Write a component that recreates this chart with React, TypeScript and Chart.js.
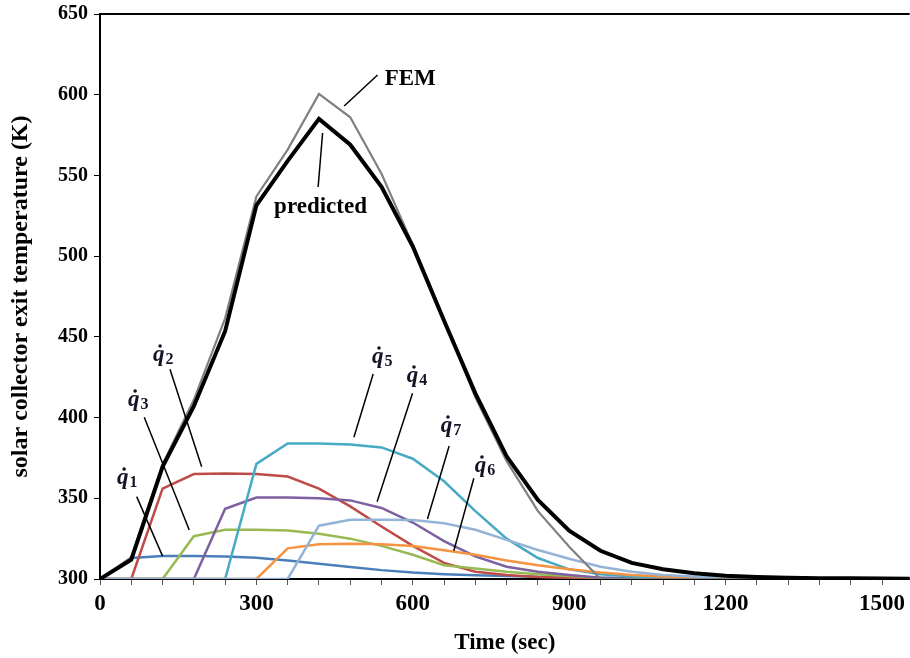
import React, { useEffect, useRef } from 'react';
import { Chart, registerables } from 'chart.js';
Chart.register(...registerables);

const TIMES = [0, 60, 120, 180, 240, 300, 360, 420, 480, 540, 600, 660, 720, 780, 840, 900, 960, 1020, 1080, 1140, 1200, 1260, 1320, 1380, 1440, 1500, 1560];
const PREDICTED = [300, 312, 369.5, 407, 453.5, 531.5, 559, 585, 569, 543, 506, 460, 415, 376, 349, 330, 317.5, 310, 306, 303.5, 302, 301.2, 300.8, 300.5, 300.4, 300.3, 300.2];
const FEM = [300, 313.5, 371, 411, 461.5, 537, 566, 600.5, 586, 551, 507, 461, 412.5, 373, 342, 320, 300, 300, 300, 300, 300, 300, 300, 300, 300, 300, 300];
const Q1 = [300, 313, 314.2, 314.3, 314, 313.2, 311.5, 309.5, 307.5, 305.5, 304, 303, 302.3, 301.8, 301.4, 301, 300.7, 300.5, 300.3, 300.2, 300.1, 300, 300, 300, 300, 300, 300];
const Q2 = [300, 300, 356, 365, 365.3, 365, 363.5, 356, 345, 332.5, 320.5, 310, 304.5, 302.5, 301.3, 300.8, 300.4, 300.2, 300, 300, 300, 300, 300, 300, 300, 300, 300];
const Q3 = [300, 300, 300, 326.5, 330.5, 330.5, 330, 328, 325, 320.5, 315, 308.5, 306.5, 304.5, 303, 301.8, 300.6, 300.3, 300, 300, 300, 300, 300, 300, 300, 300, 300];
const Q4 = [300, 300, 300, 300, 343.5, 350.5, 350.5, 350, 348.7, 344, 335, 323.5, 314, 307.6, 304.5, 302.5, 300.8, 300.3, 300, 300, 300, 300, 300, 300, 300, 300, 300];
const Q5 = [300, 300, 300, 300, 300, 371.3, 384, 384, 383.3, 381.5, 374.5, 360.5, 342, 325, 313, 306, 303, 301.5, 300.7, 300.3, 300, 300, 300, 300, 300, 300, 300];
const Q6 = [300, 300, 300, 300, 300, 300, 319, 321.5, 321.8, 321.5, 320.5, 317.8, 315, 311.5, 308.5, 306, 304, 302.5, 301.5, 300.8, 300.4, 300.2, 300, 300, 300, 300, 300];
const Q7 = [300, 300, 300, 300, 300, 300, 300, 333, 336.7, 336.7, 336.5, 334.5, 330.5, 324.2, 318, 312.5, 307.6, 304.5, 302.5, 301.5, 300.8, 300.4, 300.2, 300, 300, 300, 300];

const X_MAX = 1553;
const Y_MIN = 300;
const Y_MAX = 650;

// Text annotations (data coordinates)
const TEXT_LABELS = [
  { text: 'FEM', t: 546, v: 610, align: 'left' },
  { text: 'predicted', t: 423, v: 530.4, align: 'center' },
];
const Q_LABELS = [
  { sub: '1', t: 32.6, v: 358.8 },
  { sub: '2', t: 101.6, v: 435.0 },
  { sub: '3', t: 53.7, v: 407.2 },
  { sub: '4', t: 588.6, v: 422.0 },
  { sub: '5', t: 521.5, v: 433.8 },
  { sub: '6', t: 719, v: 366.3 },
  { sub: '7', t: 653.8, v: 391.1 },
];
const LEADERS = [
  [468.4, 593.0, 532.4, 612.2],
  [427, 576.3, 418.4, 542.8],
  [134.2, 429.9, 195.0, 369.6],
  [84.9, 400.2, 171.2, 330.4],
  [70.4, 351.0, 120.0, 314.2],
  [524, 427.0, 487, 387.8],
  [599.5, 415.0, 531.5, 347.9],
  [669.7, 382.4, 628.1, 337.2],
  [717.1, 362.4, 678.7, 317.5],
];

const SERIF = '"Liberation Serif", "Times New Roman", serif';

const toPoints = (vals: number[]) => vals.map((y, i) => ({ x: TIMES[i], y }));

const annotPlugin = {
  id: 'annot',
  afterDraw(chart: any) {
    const { ctx, chartArea, scales } = chart;
    const xs = scales.x;
    const ys = scales.y;
    ctx.save();
    // top border
    ctx.strokeStyle = '#000';
    ctx.lineWidth = 2;
    ctx.beginPath();
    ctx.moveTo(chartArea.left, chartArea.top);
    ctx.lineTo(chartArea.right, chartArea.top);
    ctx.stroke();
    // leaders
    ctx.lineWidth = 1.5;
    ctx.strokeStyle = '#000';
    LEADERS.forEach(([t1, v1, t2, v2]) => {
      ctx.beginPath();
      ctx.moveTo(xs.getPixelForValue(t1), ys.getPixelForValue(v1));
      ctx.lineTo(xs.getPixelForValue(t2), ys.getPixelForValue(v2));
      ctx.stroke();
    });
    // text labels
    ctx.fillStyle = '#000';
    ctx.font = `bold 23px ${SERIF}`;
    ctx.textBaseline = 'middle';
    TEXT_LABELS.forEach((l) => {
      ctx.textAlign = l.align as CanvasTextAlign;
      ctx.fillText(l.text, xs.getPixelForValue(l.t), ys.getPixelForValue(l.v));
    });
    // q-dot labels
    ctx.textAlign = 'left';
    ctx.textBaseline = 'alphabetic';
    ctx.fillStyle = '#141428';
    Q_LABELS.forEach((q) => {
      const px = xs.getPixelForValue(q.t);
      const py = ys.getPixelForValue(q.v);
      ctx.font = `italic bold 23px ${SERIF}`;
      ctx.fillText('q', px, py);
      const w = ctx.measureText('q').width;
      ctx.beginPath();
      ctx.arc(px + w * 0.62, py - 15, 1.8, 0, Math.PI * 2);
      ctx.fill();
      ctx.font = `bold 16px ${SERIF}`;
      ctx.fillText(q.sub, px + w + 1, py + 3);
    });
    ctx.restore();
  },
};

export default function App() {
  const ref = useRef<HTMLCanvasElement | null>(null);
  useEffect(() => {
    if (!ref.current) return;
    const mk = (label: string, vals: number[], color: string, width: number) => ({
      label,
      data: toPoints(vals),
      borderColor: color,
      backgroundColor: color,
      borderWidth: width,
      pointRadius: 0,
      tension: 0,
      fill: false,
    });
    const chart = new Chart(ref.current, {
      type: 'line',
      data: {
        datasets: [
          mk('predicted', PREDICTED, '#000000', 4),
          mk('FEM', FEM, '#808080', 2.2),
          mk('q7', Q7, '#95B3D7', 2.5),
          mk('q6', Q6, '#F69240', 2.5),
          mk('q5', Q5, '#46AAC5', 2.5),
          mk('q4', Q4, '#7D60A0', 2.5),
          mk('q3', Q3, '#98B954', 2.5),
          mk('q2', Q2, '#BE4B48', 2.5),
          mk('q1', Q1, '#4A7EBB', 2.5),
        ],
      },
      options: {
        responsive: false,
        animation: false,
        devicePixelRatio: 1,
        layout: { padding: { top: 11, right: 0, left: 0, bottom: 0 } },
        plugins: { legend: { display: false }, tooltip: { enabled: false } },
        scales: {
          x: {
            type: 'linear',
            min: 0,
            max: X_MAX,
            border: { display: true, color: '#000', width: 2 },
            grid: { drawOnChartArea: false, drawTicks: true, tickLength: 6, color: '#555', lineWidth: 1 },
            ticks: {
              stepSize: 60,
              autoSkip: false,
              maxRotation: 0,
              includeBounds: false,
              color: '#000',
              padding: 5,
              font: { family: SERIF, size: 23, weight: 'bold' },
              callback: (v: any) => (Number(v) % 300 === 0 ? String(v) : ''),
            },
            title: {
              display: true,
              text: 'Time (sec)',
              color: '#000',
              font: { family: SERIF, size: 23, weight: 'bold' },
              padding: { top: 0, bottom: 1 },
            },
            afterFit: (s: any) => {
              s.height = 79;
            },
          } as any,
          y: {
            type: 'linear',
            min: Y_MIN,
            max: Y_MAX,
            border: { display: true, color: '#000', width: 2 },
            grid: { drawOnChartArea: false, drawTicks: true, tickLength: 6, color: '#000', lineWidth: 1 },
            ticks: {
              stepSize: 50,
              color: '#000',
              padding: 6,
              font: { family: SERIF, size: 20, weight: 'bold', lineHeight: 0.8 },
            },
            title: {
              display: true,
              text: 'solar collector exit temperature (K)',
              color: '#000',
              font: { family: SERIF, size: 24, weight: 'bold' },
              padding: { top: 6, bottom: 0 },
            },
            afterFit: (s: any) => {
              s.width = 100;
            },
          } as any,
        },
      },
      plugins: [annotPlugin],
    });
    return () => chart.destroy();
  }, []);
  return (
    <div style={{ position: 'absolute', left: 0, top: 0, width: 910, height: 658, background: '#fff' }}>
      <canvas ref={ref} width={910} height={658} />
    </div>
  );
}
